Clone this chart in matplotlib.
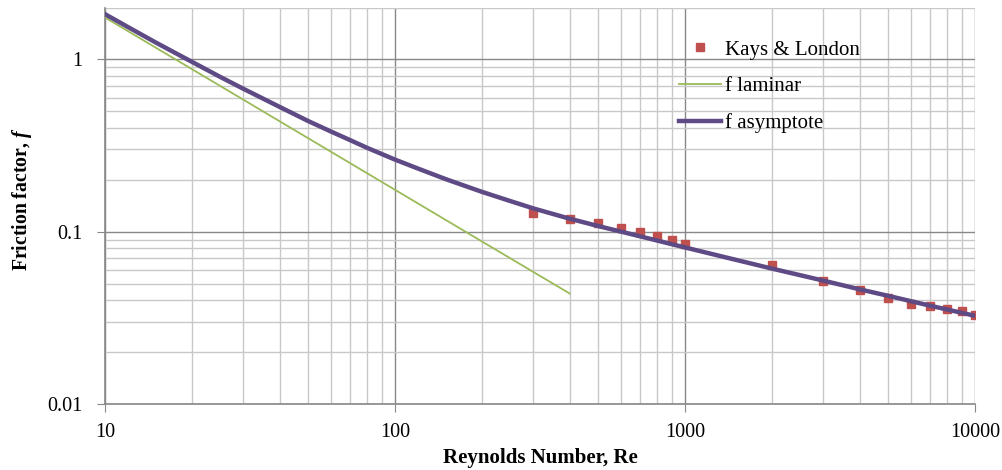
import numpy as np
import matplotlib.pyplot as plt
from matplotlib.ticker import LogLocator, NullFormatter, FixedLocator, FixedFormatter

plt.rcParams['font.family'] = ['Liberation Serif', 'DejaVu Serif']
plt.rcParams['mathtext.fontset'] = 'custom'
plt.rcParams['mathtext.it'] = 'Liberation Serif:italic:bold'
plt.rcParams['mathtext.rm'] = 'Liberation Serif:bold'

# Kays & London data points
re_kl = [300, 400, 500, 600, 700, 800, 900, 1000, 2000, 3000, 4000, 5000,
         6000, 7000, 8000, 9000, 10000]
f_kl = [0.129, 0.119, 0.113, 0.105, 0.100, 0.095, 0.090, 0.085, 0.0643,
        0.0519, 0.046, 0.0413, 0.0381, 0.0371, 0.0357, 0.0347, 0.0329]

# laminar line
re_lam = [10, 20, 50, 100, 200, 400]
f_lam = [1.75, 0.875, 0.35, 0.175, 0.0875, 0.0438]

# asymptote curve
re_asy = [10, 12, 15, 20, 25, 30, 40, 50, 60, 70, 80, 100, 120, 150, 200,
          250, 300, 400, 500, 700, 1000, 1500, 2000, 3000, 4000, 5000, 7000, 10000]
f_asy = [1.83, 1.54, 1.25, 0.965, 0.79, 0.675, 0.53, 0.44, 0.382, 0.34, 0.307,
         0.262, 0.2325, 0.2015, 0.17, 0.1505, 0.1365, 0.119, 0.108, 0.094, 0.081,
         0.0686, 0.061, 0.052, 0.0463, 0.0425, 0.0372, 0.0325]

fig = plt.figure(figsize=(10.03, 4.70), dpi=100)
ax = fig.add_axes([105 / 1003, 66 / 470, 870 / 1003, 396.5 / 470])

ax.plot(re_kl, f_kl, 's', color='#c0504d', markersize=5.5, label='Kays & London', zorder=3)
ax.plot(re_lam, f_lam, '-', color='#9bbb59', lw=1.3, label='f laminar', zorder=4)
ax.plot(re_asy, f_asy, '-', color='#5e4a85', lw=3.2, label='f asymptote', zorder=5)

ax.set_xscale('log')
ax.set_yscale('log')
ax.set_xlim(10, 10000)
ax.set_ylim(0.01, 2)

ax.xaxis.set_major_locator(FixedLocator([10, 100, 1000, 10000]))
ax.xaxis.set_major_formatter(FixedFormatter(['10', '100', '1000', '10000']))
ax.yaxis.set_major_locator(FixedLocator([0.01, 0.1, 1]))
ax.yaxis.set_major_formatter(FixedFormatter(['0.01', '0.1', '1']))
ax.xaxis.set_minor_locator(LogLocator(base=10, subs=np.arange(2, 10)))
ax.yaxis.set_minor_locator(LogLocator(base=10, subs=np.arange(2, 10)))
ax.xaxis.set_minor_formatter(NullFormatter())
ax.yaxis.set_minor_formatter(NullFormatter())

ax.grid(which='major', color='#888888', lw=1.0)
ax.grid(which='minor', color='#c8c8c8', lw=1.0)
ax.set_axisbelow(True)

for s in ['top', 'right']:
    ax.spines[s].set_visible(False)
for s in ['left', 'bottom']:
    ax.spines[s].set_color('#888888')
    ax.spines[s].set_linewidth(1.2)

ax.tick_params(which='major', length=6, color='#888888', labelsize=14.5)
ax.tick_params(axis='y', pad=10)
ax.tick_params(axis='x', pad=8)
ax.tick_params(which='minor', length=0)

ax.set_xlabel('Reynolds Number, Re', fontsize=15, fontweight='bold')
ax.set_ylabel('Friction factor, $f$', fontsize=14.2, fontweight='bold')
ax.xaxis.set_label_coords(0.5, -0.136)
ax.yaxis.set_label_coords(-0.095, 0.517)
ax.xaxis.label.set_va('center')
ax.yaxis.label.set_va('center')

leg = ax.legend(loc='upper left', bbox_to_anchor=(0.66, 0.918), frameon=False,
                fontsize=15, handlelength=2.0, handletextpad=0.2,
                labelspacing=0.82, borderpad=0, borderaxespad=0)

fig.savefig('out.png', dpi=100)
